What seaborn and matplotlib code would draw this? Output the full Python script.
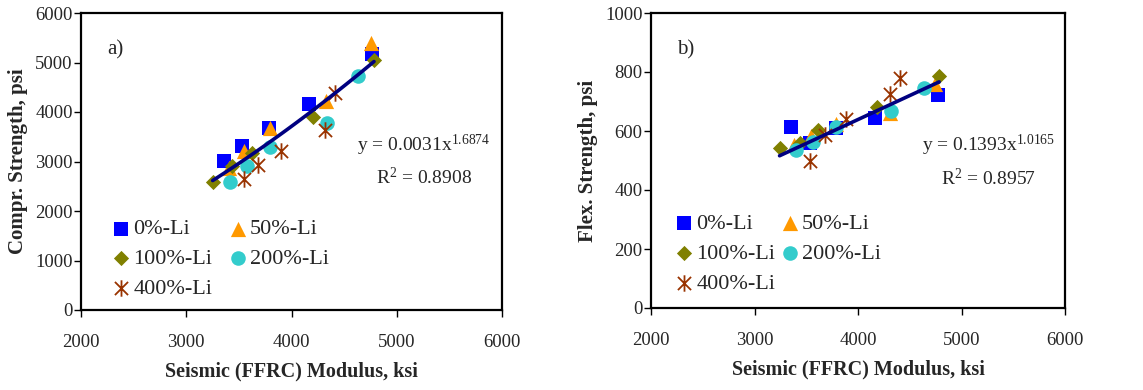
import numpy as np
import pandas as pd
import matplotlib
matplotlib.use("Agg")
import matplotlib.pyplot as plt
from matplotlib.path import Path
import seaborn as sns

# ---------------- data ----------------
series_names = ["0%-Li", "50%-Li", "100%-Li", "200%-Li", "400%-Li"]

# Panel a) compressive strength vs seismic modulus
comp_x_0 = [3362, 3533, 3789, 4169, 4765]
comp_y_0 = [3020, 3315, 3679, 4156, 5178]
comp_x_50 = [3403, 3545, 3796, 4325, 4755]
comp_y_50 = [2871, 3215, 3679, 4217, 5393]
comp_x_100 = [3251, 3438, 3628, 4201, 4784]
comp_y_100 = [2589, 2912, 3181, 3900, 5044]
comp_x_200 = [3416, 3574, 3799, 4334, 4635]
comp_y_200 = [2582, 2912, 3288, 3786, 4734]
comp_x_400 = [3552, 3679, 3900, 4318, 4413]
comp_y_400 = [2656, 2939, 3208, 3631, 4391]

# Panel b) flexural strength vs seismic modulus
flex_x_0 = [3348, 3535, 3792, 4166, 4771]
flex_y_0 = [615, 559, 610, 644, 723]
flex_x_50 = [3384, 3548, 3792, 4314, 4748]
flex_y_50 = [551, 582, 625, 661, 759]
flex_x_100 = [3242, 3438, 3615, 4185, 4784]
flex_y_100 = [543, 559, 605, 681, 785]
flex_x_200 = [3400, 3561, 3792, 4323, 4636]
flex_y_200 = [534, 562, 614, 668, 745]
flex_x_400 = [3532, 3680, 3886, 4311, 4404]
flex_y_400 = [500, 585, 641, 727, 780]

# power-law trendlines as printed on the chart
comp_coef, comp_exp, comp_r2 = 0.0031, 1.6874, 0.8908
flex_coef, flex_exp, flex_r2 = 0.1393, 1.0165, 0.8957

x_ticks = [2000, 3000, 4000, 5000, 6000]
comp_ticks = [0, 1000, 2000, 3000, 4000, 5000, 6000]
flex_ticks = [0, 200, 400, 600, 800, 1000]

# ---------------- style ----------------
sns.set_theme(style="white")
plt.rcParams["font.family"] = ["Liberation Serif", "DejaVu Serif"]
plt.rcParams["mathtext.fontset"] = "custom"
plt.rcParams["mathtext.rm"] = "Liberation Serif"
plt.rcParams["mathtext.it"] = "Liberation Serif:italic"

star = Path([(0, -1), (0, 1), (-0.8, -0.8), (0.8, 0.8), (-0.8, 0.8), (0.8, -0.8)],
            [Path.MOVETO, Path.LINETO, Path.MOVETO, Path.LINETO, Path.MOVETO, Path.LINETO])

styles = {
    "0%-Li": dict(marker="s", color="#0000FF", s=95),
    "50%-Li": dict(marker="^", color="#FF9900", s=120),
    "100%-Li": dict(marker="D", color="#808000", s=60),
    "200%-Li": dict(marker="o", color="#33CCCC", s=110),
    "400%-Li": dict(marker=star, color="#993300", s=140),
}


def build_df(xs, ys):
    rows = []
    for name, x, y in zip(series_names, xs, ys):
        for xi, yi in zip(x, y):
            rows.append((name, xi, yi))
    return pd.DataFrame(rows, columns=["series", "x", "y"])


comp_df = build_df([comp_x_0, comp_x_50, comp_x_100, comp_x_200, comp_x_400],
                   [comp_y_0, comp_y_50, comp_y_100, comp_y_200, comp_y_400])
flex_df = build_df([flex_x_0, flex_x_50, flex_x_100, flex_x_200, flex_x_400],
                   [flex_y_0, flex_y_50, flex_y_100, flex_y_200, flex_y_400])

fig = plt.figure(figsize=(11.43, 3.90), dpi=100)
W, H = 1143, 390
ax1 = fig.add_axes([81 / W, 1 - 310 / H, (502 - 81) / W, (310 - 13) / H])
ax2 = fig.add_axes([651 / W, 1 - 308 / H, (1065 - 651) / W, (308 - 13) / H])


def draw(ax, df, coef, expo, r2, yticks, ylabel, tag, eq_pos, r2_pos,
         leg_anchor, colspace):
    for name in series_names:
        sub = df[df["series"] == name]
        st = styles[name]
        lw = 1.3 if name == "400%-Li" else 0
        sns.scatterplot(data=sub, x="x", y="y", ax=ax, marker=st["marker"],
                        color=st["color"], s=st["s"], linewidth=lw,
                        edgecolor=st["color"], label=name, zorder=3)
    xs = np.linspace(df["x"].min(), df["x"].max(), 60)
    ax.plot(xs, coef * xs ** expo, color="#000080", lw=2.6, zorder=4)

    ax.set_xlim(2000, 6000)
    ax.set_ylim(yticks[0], yticks[-1])
    ax.set_xticks(x_ticks)
    ax.set_yticks(yticks)
    ax.tick_params(axis="both", which="major", direction="out", length=5,
                   width=1, color="black", labelsize=13.5,
                   bottom=True, left=True)
    ax.tick_params(axis="x", pad=12)
    ax.tick_params(axis="y", pad=1)
    for sp in ax.spines.values():
        sp.set_color("black")
        sp.set_linewidth(1.6)
    ax.set_xlabel("Seismic (FFRC) Modulus, ksi", fontsize=14.5,
                  fontweight="bold", labelpad=8)
    ax.set_ylabel(ylabel, fontsize=15, fontweight="bold", labelpad=5)
    ax.grid(False)
    ax.text(0.063, 0.875, tag, transform=ax.transAxes, fontsize=15,
            ha="left", va="center")
    ax.text(eq_pos[0], eq_pos[1], r"y = %sx$^{%s}$" % (coef, expo),
            transform=ax.transAxes, fontsize=14, ha="left", va="center")
    ax.text(r2_pos[0], r2_pos[1], r"R$^{2}$ = %.4f" % r2,
            transform=ax.transAxes, fontsize=14, ha="left", va="center")

    h, l = ax.get_legend_handles_labels()
    hm = dict(zip(l, h))
    order = ["0%-Li", "100%-Li", "400%-Li", "50%-Li", "200%-Li"]
    ax.legend([hm[k] for k in order], order, ncol=2, frameon=False,
              loc="upper left", bbox_to_anchor=leg_anchor, fontsize=16,
              handletextpad=0.05, columnspacing=colspace, labelspacing=0.42,
              handlelength=1.0, borderaxespad=0, borderpad=0)


draw(ax1, comp_df, comp_coef, comp_exp, comp_r2, comp_ticks,
     "Compr. Strength, psi", "a)", (0.655, 0.555), (0.7, 0.445),
     (0.069, 0.307), 0.65)
draw(ax2, flex_df, flex_coef, flex_exp, flex_r2, flex_ticks,
     "Flex. Strength, psi", "b)", (0.655, 0.55), (0.7, 0.44),
     (0.053, 0.32), 0.15)

fig.savefig("out.png", dpi=100)
